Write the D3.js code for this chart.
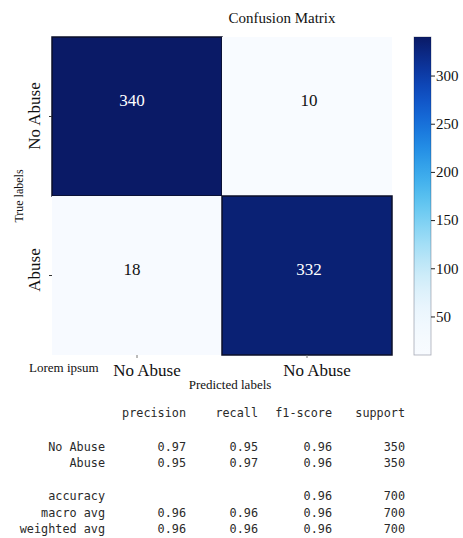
<!DOCTYPE html>
<html>
<head>
<meta charset="utf-8">
<script src="https://cdn.jsdelivr.net/npm/d3@7"></script>
<style>
  body { margin: 0; background: #fff; }
  svg { display: block; }
</style>
</head>
<body>
<svg class="chart"></svg>
<script>
// confusion matrix + classification report

var trueLabels = ["No Abuse", "Abuse"];
var predLabels = ["No Abuse", "No Abuse"];
var matrix = [
  [340, 10],
  [18, 332]
];
var colorTicks = [50, 100, 150, 200, 250, 300];

var reportCols = ["precision", "recall", "f1-score", "support"];
var reportLabels = ["No Abuse", "Abuse", "", "accuracy", "macro avg", "weighted avg"];
var precision = ["0.97", "0.95", null, null, "0.96", "0.96"];
var recall = ["0.95", "0.97", null, null, "0.96", "0.96"];
var f1Score = ["0.96", "0.96", null, "0.96", "0.96", "0.96"];
var support = ["350", "350", null, "700", "700", "700"];

var width = 463, height = 538;
var hm = { left: 52, top: 37, right: 392, bottom: 355 };
var serif = "'Liberation Serif', 'DejaVu Serif', serif";

// the annotations aren't quite centred in the picture
var rowShift = [-17, -7];
var colShift = [-5, 2];

var svg = d3.select(".chart")
  .attr("width", width)
  .attr("height", height);

var flat = [];
matrix.forEach(function(row, r) {
  row.forEach(function(v, c) { flat.push({ r: r, c: c, v: v }); });
});
var vmin = d3.min(flat, function(d) { return d.v; });
var vmax = d3.max(flat, function(d) { return d.v; });

// custom blues (the picture is rather saturated)
var interp = d3.interpolateRgbBasis(["#f8fbff", "#eef7fd", "#b0e2f6", "#50c4f0", "#1a88e6", "#0d48c8", "#0a1a66"]);
var color = d3.scaleSequential(interp).domain([vmin, vmax]);

var x = d3.scaleBand().domain([0, 1]).range([hm.left, hm.right]);
var y = d3.scaleBand().domain([0, 1]).range([hm.top, hm.bottom]);

// cells
var cells = svg.append("g").selectAll("g")
  .data(flat)
  .join("g");

cells.append("rect")
  .attr("x", function(d) { return x(d.c); })
  .attr("y", function(d) { return y(d.r); })
  .attr("width", x.bandwidth())
  .attr("height", y.bandwidth())
  .attr("fill", function(d) { return color(d.v); })
  .attr("stroke", function(d) { return d.v > (vmin + vmax) / 2 ? "#0b0f2a" : "none"; })
  .attr("stroke-width", 1.5);

cells.append("text")
  .attr("x", function(d) { return x(d.c) + x.bandwidth() / 2 + colShift[d.c]; })
  .attr("y", function(d) { return y(d.r) + y.bandwidth() / 2 + 6 + rowShift[d.r]; })
  .attr("text-anchor", "middle")
  .attr("font-family", serif)
  .attr("font-size", 17)
  .attr("fill", function(d) { return d.v > (vmin + vmax) / 2 ? "#fff" : "#111"; })
  .text(function(d) { return d.v; });

// x axis
var xAxis = svg.append("g")
  .attr("transform", "translate(0," + hm.bottom + ")")
  .call(d3.axisBottom(x).tickSize(3).tickFormat(function(i) { return predLabels[i]; }));
xAxis.select(".domain").remove();
xAxis.selectAll("line").attr("stroke", "#777");
xAxis.selectAll("text")
  .attr("font-family", serif)
  .attr("font-size", 17)
  .attr("fill", "#111")
  .attr("dx", 10)
  .attr("dy", "0.9em");

// y axis
var yAxis = svg.append("g")
  .attr("transform", "translate(" + hm.left + ",0)")
  .call(d3.axisLeft(y).tickSize(3).tickFormat(function(i) { return trueLabels[i]; }));
yAxis.select(".domain").remove();
yAxis.selectAll("line").attr("stroke", "#333");
yAxis.selectAll("text")
  .attr("font-family", serif)
  .attr("font-size", 17)
  .attr("fill", "#111")
  .attr("text-anchor", "middle")
  .attr("transform", function(i) { return "translate(-12," + (-(y.bandwidth() / 2) + 79 + i * -5) + ") rotate(-90)"; })
  .attr("x", 0)
  .attr("dy", 0);

// titles
svg.append("text")
  .attr("x", 282).attr("y", 23)
  .attr("text-anchor", "middle")
  .attr("font-family", serif).attr("font-size", 15)
  .attr("fill", "#111")
  .text("Confusion Matrix");

svg.append("text")
  .attr("transform", "translate(23,196) rotate(-90)")
  .attr("text-anchor", "middle")
  .attr("font-family", serif).attr("font-size", 12)
  .attr("fill", "#111")
  .text("True labels");

svg.append("text")
  .attr("x", 230).attr("y", 389)
  .attr("text-anchor", "middle")
  .attr("font-family", serif).attr("font-size", 13)
  .attr("fill", "#111")
  .text("Predicted labels");

svg.append("text")
  .attr("x", 29).attr("y", 372)
  .attr("font-family", serif).attr("font-size", 13)
  .attr("fill", "#111")
  .text("Lorem ipsum");

// colorbar
var cb = { x: 414, w: 17 };
var cScale = d3.scaleLinear().domain([vmin, vmax]).range([hm.bottom, hm.top]);

var grad = svg.append("defs").append("linearGradient")
  .attr("id", "cbgrad")
  .attr("x1", 0).attr("y1", 1).attr("x2", 0).attr("y2", 0);
grad.selectAll("stop")
  .data(d3.range(0, 1.0001, 0.05))
  .join("stop")
  .attr("offset", function(t) { return t; })
  .attr("stop-color", function(t) { return color(vmin + t * (vmax - vmin)); });

svg.append("rect")
  .attr("x", cb.x).attr("y", hm.top)
  .attr("width", cb.w).attr("height", hm.bottom - hm.top)
  .attr("fill", "url(#cbgrad)")
  .attr("stroke", "#0b0f2a")
  .attr("stroke-opacity", 0.35)
  .attr("stroke-width", 0.8);

var cAxis = svg.append("g")
  .attr("transform", "translate(" + (cb.x + cb.w) + ",0)")
  .call(d3.axisRight(cScale).tickValues(colorTicks).tickSize(4).tickPadding(1));
cAxis.select(".domain").remove();
cAxis.selectAll("line").attr("stroke", "#222");
cAxis.selectAll("text")
  .attr("font-family", serif)
  .attr("font-size", 15)
  .attr("fill", "#111");

// classification report
var mono = "'DejaVu Sans Mono', 'Liberation Mono', monospace";
var colRight = [186, 258, 332, 405];
var labelRight = 105;
var rowY = d3.scalePoint().domain(d3.range(reportLabels.length)).range([447, 529]);

var rep = svg.append("g")
  .attr("font-family", mono)
  .attr("font-size", 11.8)
  .attr("fill", "#2a2a2a")
  .attr("text-anchor", "end");

rep.selectAll(".hdr")
  .data(reportCols)
  .join("text")
  .attr("class", "hdr")
  .attr("x", function(d, i) { return colRight[i]; })
  .attr("y", 417)
  .text(function(d) { return d; });

var cols = [precision, recall, f1Score, support];
reportLabels.forEach(function(lab, r) {
  if (!lab) return;
  rep.append("text")
    .attr("x", labelRight)
    .attr("y", rowY(r) + 4)
    .text(lab);
  cols.forEach(function(col, c) {
    if (col[r] == null) return;
    rep.append("text")
      .attr("x", colRight[c])
      .attr("y", rowY(r) + 4)
      .text(col[r]);
  });
});
</script>
</body>
</html>
